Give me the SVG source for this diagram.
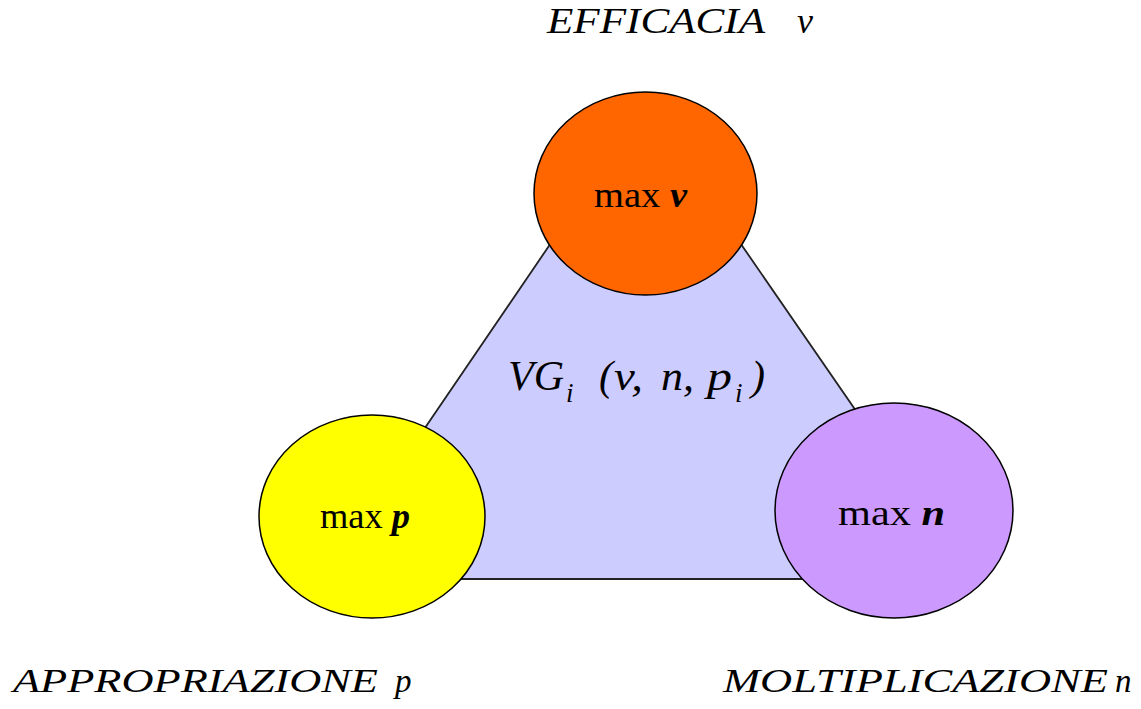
<svg xmlns="http://www.w3.org/2000/svg" width="1141" height="709" viewBox="0 0 1141 709">
<style>
text{font-family:"Liberation Serif","Times New Roman",serif;fill:#000}
.it{font-style:italic}
.bi{font-style:italic;font-weight:bold}
.node{stroke:#000;stroke-width:1.5}
</style>
<rect width="1141" height="709" fill="#fff"/>
<g id="connectors">
<polygon points="645,105 322,579 972,579" fill="#CCCCFF" stroke="#222" stroke-width="1.8"/>
</g>
<g id="label-vg" class="it" font-size="42">
<text class="it" x="508" y="390" textLength="56" lengthAdjust="spacingAndGlyphs">VG</text>
<text class="it" x="566" y="402" font-size="27">i</text>
<text class="it" x="599" y="390">(</text>
<text class="it" x="614" y="390" textLength="29" lengthAdjust="spacingAndGlyphs">v,</text>
<text class="it" x="661" y="390" textLength="33" lengthAdjust="spacingAndGlyphs">n,</text>
<text class="it" x="707" y="390" textLength="25" lengthAdjust="spacingAndGlyphs">p</text>
<text class="it" x="735" y="402" font-size="27">i</text>
<text class="it" x="751" y="390">)</text>
</g>
<g id="node-v">
<ellipse class="node" cx="645.5" cy="193.5" rx="111.5" ry="101.5" fill="#FF6600"/>
<text font-size="36" x="594" y="207" textLength="93" lengthAdjust="spacingAndGlyphs">max <tspan class="bi">v</tspan></text>
</g>
<g id="node-p">
<ellipse class="node" cx="372" cy="516.5" rx="113" ry="101.5" fill="#FFFF00"/>
<text font-size="36" x="320" y="528" textLength="90" lengthAdjust="spacingAndGlyphs">max <tspan class="bi">p</tspan></text>
</g>
<g id="node-n">
<ellipse class="node" cx="894" cy="510.5" rx="119" ry="107.5" fill="#CC99FF"/>
<text font-size="36" x="838" y="525" textLength="107" lengthAdjust="spacingAndGlyphs">max <tspan class="bi">n</tspan></text>
</g>
<g id="label-efficacia">
<text class="it" font-size="36" x="547" y="33" textLength="218" lengthAdjust="spacingAndGlyphs">EFFICACIA</text>
<text class="it" font-size="36" x="797" y="33">v</text>
</g>
<g id="label-appropriazione">
<text class="it" font-size="33" x="13" y="692" textLength="365" lengthAdjust="spacingAndGlyphs">APPROPRIAZIONE</text>
<text class="it" font-size="33" x="395" y="692">p</text>
</g>
<g id="label-moltiplicazione">
<text class="it" font-size="33" x="723" y="692" textLength="385" lengthAdjust="spacingAndGlyphs">MOLTIPLICAZIONE</text>
<text class="it" font-size="33" x="1115" y="692">n</text>
</g>
</svg>
